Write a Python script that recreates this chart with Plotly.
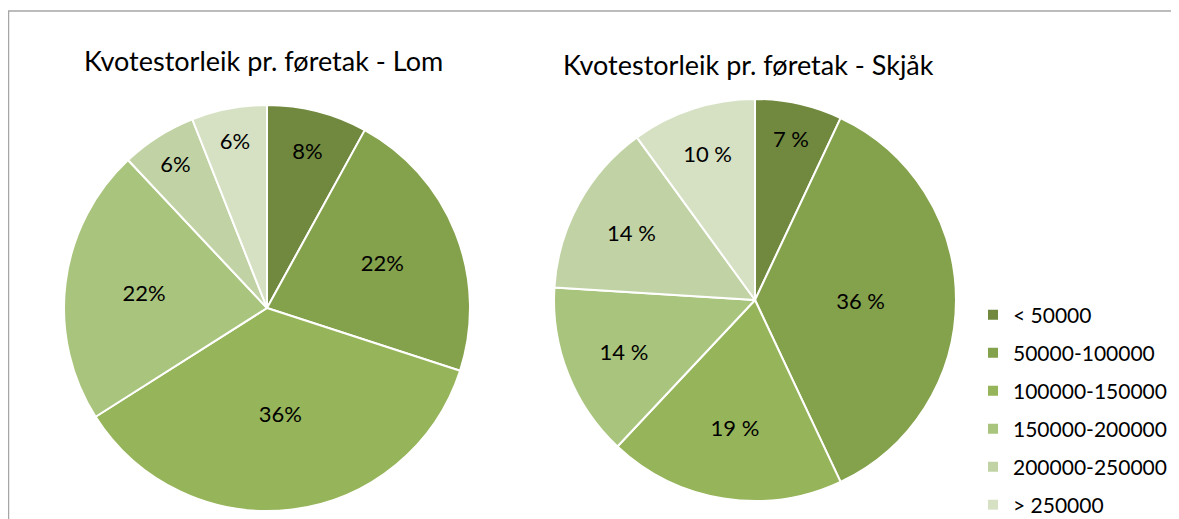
import plotly.graph_objects as go

categories = ["< 50000", "50000-100000", "100000-150000", "150000-200000", "200000-250000", "> 250000"]
lom_values = [8, 22, 36, 22, 6, 6]
skjak_values = [7, 36, 19, 14, 14, 10]
colors = ["#71893F", "#84A14B", "#96B459", "#A9C47D", "#C1D3A5", "#D6E1C4"]

# page body has an 8px margin; the figure fills the rest of the 1179x519 window
OFF = 8
W, H = 1179 - OFF, 519 - OFF
FONT = "Lato"


def px(x):
    return (x - OFF) / W


def py(y):
    return 1 - (y - OFF) / H


fig = go.Figure()

fig.add_trace(go.Pie(
    labels=categories, values=lom_values, sort=False, direction="clockwise", rotation=0,
    marker=dict(colors=colors, line=dict(color="white", width=2)),
    texttemplate="%{value}%", textposition="inside", insidetextorientation="horizontal",
    textfont=dict(family=FONT, size=22, color="#000000"),
    domain=dict(x=[px(64), px(470)], y=[py(511), py(105)]),
    showlegend=False, hoverinfo="label+percent",
))
fig.add_trace(go.Pie(
    labels=categories, values=skjak_values, sort=False, direction="clockwise", rotation=0,
    marker=dict(colors=colors, line=dict(color="white", width=2)),
    texttemplate="%{value} %", textposition="inside", insidetextorientation="horizontal",
    textfont=dict(family=FONT, size=22, color="#000000"),
    domain=dict(x=[px(554), px(956)], y=[py(501), py(99)]),
    showlegend=False, hoverinfo="label+percent",
))

# legend entries (one group per category so spacing matches the reference)
for i, (c, col) in enumerate(zip(categories, colors)):
    fig.add_trace(go.Scatter(
        x=[None], y=[None], mode="markers", name=c, legendgroup=f"g{i}",
        marker=dict(symbol="square", size=10, color=col, line=dict(width=0)), showlegend=True,
    ))

fig.add_annotation(text="Kvotestorleik pr. føretak - Lom", x=px(263), y=py(61),
                   xref="paper", yref="paper", xanchor="center", yanchor="middle", showarrow=False,
                   font=dict(family=FONT, size=27, color="#000000"))
fig.add_annotation(text="Kvotestorleik pr. føretak - Skjåk", x=px(748), y=py(64),
                   xref="paper", yref="paper", xanchor="center", yanchor="middle", showarrow=False,
                   font=dict(family=FONT, size=27, color="#000000"))

# chart-area frame
fig.add_shape(type="line", xref="paper", yref="paper", x0=px(8), x1=1, y0=py(11), y1=py(11),
              line=dict(color="#A6A6A6", width=1.5))
fig.add_shape(type="line", xref="paper", yref="paper", x0=px(8.5), x1=px(8.5), y0=0, y1=py(11),
              line=dict(color="#A6A6A6", width=1.5))

fig.update_layout(
    width=W, height=H, margin=dict(l=0, r=0, t=0, b=0, autoexpand=False),
    paper_bgcolor="white", plot_bgcolor="white",
    xaxis=dict(visible=False), yaxis=dict(visible=False),
    legend=dict(x=px(973), xanchor="left", y=py(294.5), yanchor="top",
                xref="container", yref="container",
                traceorder="grouped", tracegroupgap=7.7,
                font=dict(family=FONT, size=21, color="#000000"),
                bgcolor="rgba(0,0,0,0)"),
)

fig.write_html("out.html")
